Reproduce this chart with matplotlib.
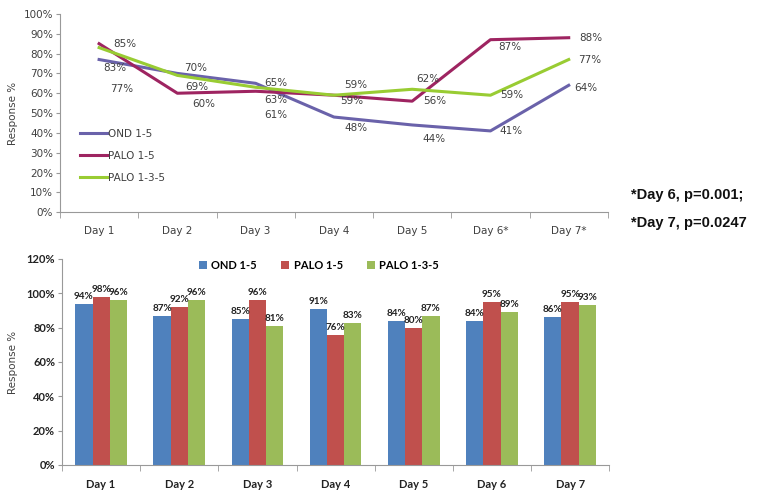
import numpy as np
import matplotlib.pyplot as plt

days = ['Day 1', 'Day 2', 'Day 3', 'Day 4', 'Day 5', 'Day 6', 'Day 7']
days_star = ['Day 1', 'Day 2', 'Day 3', 'Day 4', 'Day 5', 'Day 6*', 'Day 7*']
series = ['OND 1-5', 'PALO 1-5', 'PALO 1-3-5']

# top chart: daily response %
ond_line = [77, 70, 65, 48, 44, 41, 64]
palo_line = [85, 60, 61, 59, 56, 87, 88]
palo135_line = [83, 69, 63, 59, 62, 59, 77]

# bottom chart: response %
ond_bar = [94, 87, 85, 91, 84, 84, 86]
palo_bar = [98, 92, 96, 76, 80, 95, 95]
palo135_bar = [96, 96, 81, 83, 87, 89, 93]

notes = ['*Day 6, p=0.001;', '*Day 7, p=0.0247']

line_colors = ['#6A62AA', '#9E2461', '#99CC33']
bar_colors = ['#4F81BD', '#C0504D', '#9BBB59']

# label offsets (pixels) used to mimic the original Excel label placement
line_offsets = [
    [(23, -29), (18, 5), (20, 0), (22, -11), (22, -14), (21, 0), (17, -3)],
    [(26, 0), (26, -11), (20, -24), (18, -6), (23, 0), (19, -7), (22, 0)],
    [(16, -20), (19, -12), (20, -13), (22, 10), (16, 10), (21, 0), (21, 0)],
]

fig = plt.figure(figsize=(7.62, 4.97), dpi=100)
grey = '#404040'
dark = '#222222'
bfont = 'Lato'

# ---- top line chart
ax1 = fig.add_axes([0.0787, 0.573, 0.719, 0.399])
x = np.arange(len(days))
for vals, col, name, offs in zip([ond_line, palo_line, palo135_line], line_colors, series, line_offsets):
    ax1.plot(x, vals, color=col, lw=2.2, label=name)
    for xi, v, o in zip(x, vals, offs):
        ax1.annotate(f'{v}%', (xi, v), xytext=o, textcoords='offset pixels',
                     ha='center', va='center', fontsize=7.5, color=grey)
ax1.set_xlim(-0.5, 6.5)
ax1.set_ylim(0, 100)
ax1.set_yticks(np.arange(0, 101, 10))
ax1.set_yticklabels([f'{t}%' for t in range(0, 101, 10)], fontsize=7.5, color=grey)
ax1.set_xticks(x)
ax1.set_xticklabels(days_star, fontsize=7.5, color=grey)
ax1.set_xticks(np.arange(-0.5, 7, 1), minor=True)
ax1.tick_params(axis='x', which='major', length=0, pad=10)
ax1.tick_params(axis='x', which='minor', length=4, color='#999999')
ax1.tick_params(axis='y', length=3, color='#999999', pad=2)
for s in ['top', 'right']:
    ax1.spines[s].set_visible(False)
for s in ['left', 'bottom']:
    ax1.spines[s].set_color('#999999')
ax1.set_ylabel('Response %', fontsize=7.5, color=grey, labelpad=4)
ax1.legend(loc='lower left', bbox_to_anchor=(0.02, 0.1), frameon=False, fontsize=7.5,
           handlelength=2.6, handletextpad=0.1, labelspacing=1.15, labelcolor=grey)

# ---- bottom bar chart
ax2 = fig.add_axes([0.0814, 0.0644, 0.718, 0.4145])
w = 0.22
for i, (vals, col, name) in enumerate(zip([ond_bar, palo_bar, palo135_bar], bar_colors, series)):
    pos = x + (i - 1) * w
    ax2.bar(pos, vals, width=w, color=col, label=name)
    for p, v in zip(pos, vals):
        ax2.annotate(f'{v}%', (p, v), xytext=(0, 3), textcoords='offset pixels',
                     ha='center', va='bottom', fontsize=7.2, fontweight='bold',
                     family=bfont, color=dark)
ax2.set_xlim(-0.5, 6.5)
ax2.set_ylim(0, 120)
ax2.set_yticks(np.arange(0, 121, 20))
ax2.set_yticklabels([f'{t}%' for t in range(0, 121, 20)], fontsize=8, fontweight='bold',
                    family=bfont, color=dark)
ax2.set_xticks(x)
ax2.set_xticklabels(days, fontsize=8, fontweight='bold', family=bfont, color=dark)
ax2.set_xticks(np.arange(-0.5, 7, 1), minor=True)
ax2.tick_params(axis='x', which='major', length=0, pad=10)
ax2.tick_params(axis='x', which='minor', length=4, color='#999999')
ax2.tick_params(axis='y', length=3, color='#999999', pad=2)
for s in ['top', 'right']:
    ax2.spines[s].set_visible(False)
for s in ['left', 'bottom']:
    ax2.spines[s].set_color('#999999')
ax2.set_ylabel('Response %', fontsize=7.5, color=grey, labelpad=6)
ax2.legend(loc='center', bbox_to_anchor=(0.47, 0.97), ncol=3, frameon=False,
           handlelength=0.7, handleheight=0.7, handletextpad=0.4, columnspacing=2.2,
           prop={'weight': 'bold', 'size': 8, 'family': bfont})

# ---- p-value notes
for i, t in enumerate(notes):
    fig.text(0.828, 0.607 - i * 0.055, t, fontsize=10.5, fontweight='bold',
             family='Liberation Sans', color='#111111', va='center')

fig.savefig('out.png', dpi=100)
